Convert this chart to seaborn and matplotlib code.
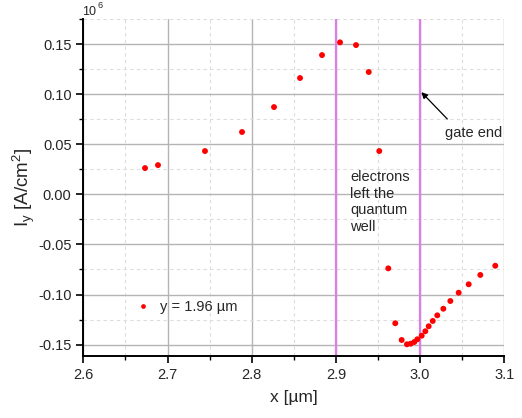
import matplotlib
matplotlib.use("Agg")
import matplotlib.pyplot as plt
import seaborn as sns
import pandas as pd
from matplotlib.ticker import MultipleLocator

x_um = [2.6733, 2.6887, 2.7445, 2.7885, 2.8265, 2.8574, 2.8835, 2.9049, 2.9239, 2.9390,
        2.9515, 2.9622, 2.9705, 2.9781, 2.9844, 2.9888, 2.9931, 2.9967, 3.0019, 3.0062,
        3.0102, 3.0150, 3.0204, 3.0276, 3.0359, 3.0458, 3.0577, 3.0715, 3.0893]
iy = [0.0262, 0.0292, 0.0432, 0.0622, 0.0871, 0.1161, 0.1390, 0.1517, 0.1490, 0.1221,
      0.0432, -0.0739, -0.1287, -0.1454, -0.1497, -0.1491, -0.1474, -0.1447, -0.1411, -0.1367,
      -0.1317, -0.1264, -0.1208, -0.1142, -0.1065, -0.0982, -0.0898, -0.0805, -0.0713]
series_label = "y = 1.96 µm"
vlines_x = [2.9, 3.0]

sns.set_style("ticks")
plt.rcParams['font.family'] = ['Liberation Sans', 'DejaVu Sans']
plt.rcParams['mathtext.fontset'] = 'custom'
plt.rcParams['mathtext.rm'] = 'Liberation Sans'
plt.rcParams['mathtext.it'] = 'Liberation Sans:italic'

df = pd.DataFrame({"x": x_um, "Iy": iy, "series": series_label})

W, H = 522, 418
fig = plt.figure(figsize=(W / 100, H / 100), dpi=100)
ax = fig.add_axes([0.1596, 0.1483, 0.9661 - 0.1596, 0.9545 - 0.1483])

ax.set_xlim(2.6, 3.1)
ax.set_ylim(-0.1614, 0.175)
ax.xaxis.set_major_locator(MultipleLocator(0.1))
ax.xaxis.set_minor_locator(MultipleLocator(0.05))
ax.yaxis.set_major_locator(MultipleLocator(0.05))
ax.yaxis.set_minor_locator(MultipleLocator(0.025))

ax.grid(which='major', color='#b4b4b4', linewidth=1.0, linestyle='-')
ax.grid(which='minor', color='#dcdcdc', linewidth=0.8, linestyle=(0, (3, 3)))
ax.set_axisbelow(True)

for xv in vlines_x:
    ax.axvline(xv, color='#dd7de8', linewidth=1.6, zorder=2)

sns.scatterplot(data=df, x="x", y="Iy", hue="series", palette=['#ff0000'],
                s=18, edgecolor='none', ax=ax, zorder=3)

leg = ax.legend(loc='center left', bbox_to_anchor=(0.1275, 0.146), frameon=False,
                fontsize=10.5, handlelength=0.8, handletextpad=0.8, markerscale=0.8,
                borderpad=0, borderaxespad=0)

ax.xaxis.set_major_formatter(matplotlib.ticker.FormatStrFormatter('%.1f'))
ax.yaxis.set_major_formatter(matplotlib.ticker.FormatStrFormatter('%.2f'))

for side in ['top', 'right']:
    ax.spines[side].set_visible(False)
for side in ['left', 'bottom']:
    ax.spines[side].set_linewidth(1.4)
    ax.spines[side].set_color('black')

ax.tick_params(which='major', direction='out', length=5, width=1.2, labelsize=10.5, color='black')
ax.tick_params(which='minor', direction='out', length=3, width=1.0, color='black')

ax.set_xlabel("x [µm]", fontsize=12.5, labelpad=6)
ax.set_ylabel(r"I$_\mathrm{y}$ [A/cm$^\mathrm{2}$]", fontsize=13.5, labelpad=1)

# axis multiplier "10^6"
fig.text(82 / W, 1 - 15 / H, "10", fontsize=9, ha='left', va='baseline')
fig.text(97.5 / W, 1 - 8.5 / H, "6", fontsize=6.5, ha='left', va='baseline')

ax.text(2.9168, -0.0077, "electrons\nleft the\nquantum\nwell", fontsize=10.5,
        ha='left', va='center', linespacing=1.25)
ax.text(3.0295, 0.061, "gate end", fontsize=10.5, ha='left', va='center')
ax.annotate("", xy=(3.0015, 0.102), xytext=(3.0323, 0.0752),
            arrowprops=dict(arrowstyle='-|>', color='black', lw=0.9,
                            mutation_scale=9, shrinkA=0, shrinkB=0))

fig.savefig("out.png", dpi=100)
